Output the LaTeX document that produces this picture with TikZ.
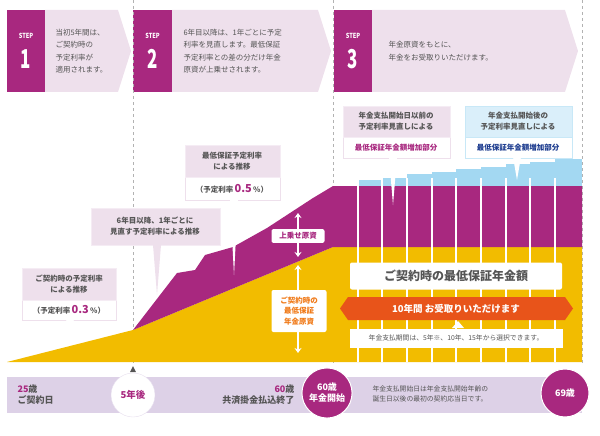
\documentclass[tikz,border=0pt]{standalone}
\usepackage{fontspec}
\setmainfont{Noto Sans CJK JP}
\usetikzlibrary{shapes.geometric,positioning,arrows.meta}
\definecolor{kpurple}{HTML}{A8287F}
\definecolor{kyellow}{HTML}{F2BC00}
\definecolor{kblue}{HTML}{A3D8F2}
\definecolor{kpink}{HTML}{EEE0EC}
\definecolor{klav}{HTML}{DDD1E7}
\definecolor{korange}{HTML}{E8541A}
\definecolor{korgtext}{HTML}{F07A18}
\definecolor{knavy}{HTML}{1D3C8F}
\definecolor{kgray}{HTML}{555555}
\begin{document}
\begin{tikzpicture}[x=1pt,y=-1pt,font=\fontsize{7.5}{10}\selectfont,text=kgray,
  bandtext/.style={anchor=west,align=left,text=kgray,font=\fontsize{7.5}{12.5}\selectfont},
  pinkbox/.style={fill=kpink,draw=kpink!60,line width=0.6pt},
  framebox/.style={fill=white,draw=kpink,line width=0.6pt},
  calltext/.style={align=center,font=\fontsize{7.5}{10.5}\selectfont\bfseries},
  whitebox/.style={fill=white,rounded corners=2pt},
  agecircle/.style={circle,fill=kpurple,text=white,align=center,font=\fontsize{9}{11}\selectfont\bfseries,draw=white,line width=1pt}]
\useasboundingbox (0,0) rectangle (600,436);
% step banners
\foreach \xa/\xb/\xc/\n in {7/45/118/1,133/172/318/2,334/372/565/3}{
  \fill[kpink] (\xb,10) -- (\xc,10) -- (\xc+13,51) -- (\xc,92) -- (\xb,92) -- cycle;
  \fill[kpurple] (\xa,10) rectangle (\xb,92);
  \node[text=white,font=\fontsize{7}{7}\selectfont\bfseries,xscale=0.8] at ({(\xa+\xb)/2},36) {STEP};
  \node[text=white,font=\fontsize{26}{26}\selectfont\bfseries,xscale=0.65] at ({(\xa+\xb)/2},59) {\n};
}
\node[bandtext] (s1) at (52,51) {当初5年間は、\\ご契約時の\\予定利率が\\適用されます。};
\node[bandtext] (s2) at (180,51) {6年目以降は、1年ごとに予定\\利率を見直します。最低保証\\予定利率との差の分だけ年金\\原資が上乗せされます。};
\node[bandtext] (s3) at (385,51) {年金原資をもとに、\\年金をお受取りいただけます。};
% dashed dividers
\foreach \x in {133,333,582}
  \draw[gray!60,dashed,line width=0.4pt] (\x,0) -- (\x,365);
% chart areas
\fill[kyellow] (7,362) -- (133,330) -- (333,247) -- (582,247) -- (582,362) -- cycle;
\fill[kpurple] (133,330) -- (177,273) -- (195,270) -- (205,255) -- (233,247) -- (267,228)
  -- (313,198) -- (333,186) -- (582,186) -- (582,247) -- (333,247) -- cycle;
\foreach \x/\t/\e in {358/180/382,382/178/407,407/174/432,432/172/456,456/169/481,481/167/506,506/164/530,530/162/555,555/159/582}
  \fill[kblue] (\x,\t) rectangle (\e,186);
\foreach \x in {358,382,407,432,456,481,506,530,555}
  \draw[white,line width=1.2pt] (\x,178) -- (\x,362);
% callouts
\filldraw[framebox] (22,268) rectangle (116,320);
\filldraw[pinkbox] (22,268) rectangle (116,300);
\fill[white] (66,319) -- (70,340) -- (74,319) -- cycle;
\node (c1) at (69,284) [calltext] {ご契約時の予定利率\\による推移};
\node (c1r) at (69,310) [calltext] {（予定利率\,{\color{kpurple}\fontsize{11}{11}\selectfont 0.3}\,\%）};
\filldraw[pinkbox] (91,208) rectangle (220,245);
\fill[kpink] (153,245) -- (157,295) -- (161,245) -- cycle;
\node (c2) at (155,226) [calltext] {6年目以降、1年ごとに\\見直す予定利率による推移};
\filldraw[framebox] (185,145) rectangle (280,200);
\filldraw[pinkbox] (185,145) rectangle (280,177);
\fill[white] (230,199) -- (234,275) -- (238,199) -- cycle;
\node (c3) at (232,161) [calltext] {最低保証予定利率\\による推移};
\node (c3r) at (232,189) [calltext] {（予定利率\,{\color{kpurple}\fontsize{11}{11}\selectfont 0.5}\,\%）};
\filldraw[framebox] (343,106) rectangle (450,158);
\filldraw[pinkbox] (343,106) rectangle (450,137);
\fill[white] (389,157) -- (393,205) -- (397,157) -- cycle;
\node (c4) at (396,121) [calltext] {年金支払開始日以前の\\予定利率見直しによる};
\node (c4r) at (396,148) [calltext,text=kpurple] {最低保証年金額増加部分};
\filldraw[fill=white,draw=kblue!60,line width=0.6pt] (465,106) rectangle (572,158);
\filldraw[fill=kblue!40,draw=kblue!60,line width=0.6pt] (465,106) rectangle (572,137);
\fill[white] (513,157) -- (517,180) -- (521,157) -- cycle;
\node (c5) at (518,121) [calltext] {年金支払開始後の\\予定利率見直しによる};
\node (c5r) at (518,148) [calltext,text=knavy] {最低保証年金額増加部分};
% funding arrows
\coordinate (up1) at (298,213);
\coordinate (up2) at (298,257);
\draw[white,line width=1.5pt,<->,>={Stealth[length=5pt,width=7pt]}] (up1) -- (up2);
\node[whitebox,text=kpurple,font=\fontsize{7.5}{9}\selectfont\bfseries,minimum width=53pt] (extra) at (298,236) {上乗せ原資};
\coordinate (lo1) at (298,265);
\coordinate (lo2) at (298,353);
\draw[white,line width=1.5pt,<->,>={Stealth[length=5pt,width=7pt]}] (lo1) -- (lo2);
\node[whitebox,text=korgtext,align=center,font=\fontsize{7.5}{10.5}\selectfont\bfseries,minimum width=55pt,minimum height=42pt] (base) at (299,311) {ご契約時の\\最低保証\\年金原資};
% annuity boxes
\node[whitebox,minimum width=212pt,minimum height=27pt,font=\fontsize{12}{13}\selectfont\bfseries] (amount) at (456,276) {ご契約時の最低保証年金額};
\fill[korange] (340,308.5) -- (348,297) -- (565,297) -- (573,308.5) -- (565,320) -- (348,320) -- cycle;
\node[text=white,font=\fontsize{9.5}{10}\selectfont\bfseries] (tenyr) at (456,308.5) {10年間 お受取りいただけます};
\fill[white] (452,328) -- (458,321) -- (464,328) -- cycle;
\node[fill=white,minimum width=213pt,minimum height=19pt,font=\fontsize{6.8}{8}\selectfont] (period) at (456,338) {年金支払期間は、5年※、10年、15年から選択できます。};
% age strip
\fill[klav] (7,377) rectangle (582,413);
\fill[kgray] (130,372) -- (133,366) -- (136,372) -- cycle;
\node[anchor=west,align=left,font=\fontsize{9}{11}\selectfont\bfseries] (start) at (14,395) {{\color{kpurple}25}歳\\ご契約日};
\node[circle,fill=white,draw=klav!70,minimum size=44pt,text=kpurple,font=\fontsize{9.5}{10}\selectfont\bfseries] (five) at (133,395) {5年後};
\node[anchor=east,align=right,font=\fontsize{9}{11}\selectfont\bfseries] (end) at (298,395) {{\color{kpurple}60}歳\\共済掛金払込終了};
\node[agecircle,minimum size=50pt] (open) at (327,393) {60歳\\年金開始};
\node[anchor=west,align=left,font=\fontsize{6.8}{10}\selectfont] (note) at (369,394) {年金支払開始日は年金支払開始年齢の\\誕生日以後の最初の契約応当日です。};
\node[agecircle,minimum size=48pt] (last) at (565,393) {69歳};
\end{tikzpicture}
\end{document}
